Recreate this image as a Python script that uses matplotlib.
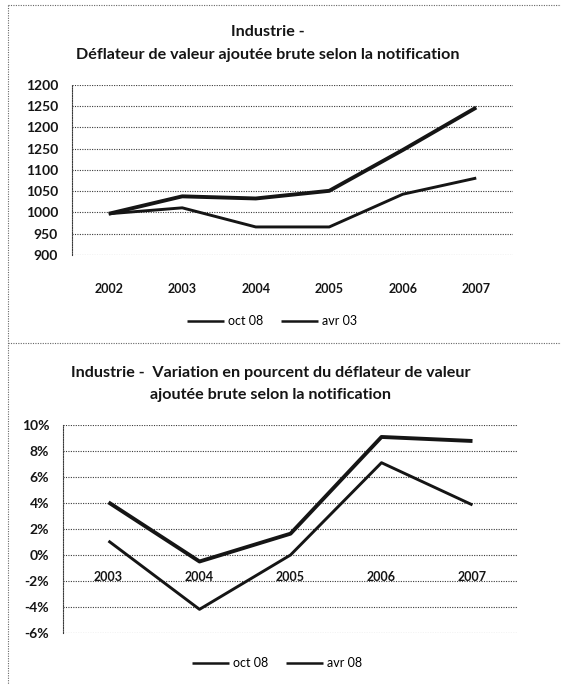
import matplotlib
matplotlib.use("Agg")
import matplotlib.pyplot as plt
from matplotlib.lines import Line2D

plt.rcParams['font.family'] = ['Lato', 'DejaVu Sans']

# ---- data ----
years_top = ["2002", "2003", "2004", "2005", "2006", "2007"]
oct08_level = [997, 1038, 1033, 1051, 1147, 1247]
avr03_level = [997, 1011, 966, 966, 1043, 1081]
ytick_vals_top = [1300, 1250, 1200, 1150, 1100, 1050, 1000, 950, 900]
ytick_labels_top = ["1200", "1250", "1200", "1250", "1100", "1050", "1000", "950", "900"]
legend_top = ["oct 08", "avr 03"]
title_top = ["Industrie -", "Déflateur de valeur ajoutée brute selon la notification"]

years_bot = ["2003", "2004", "2005", "2006", "2007"]
oct08_pct = [4.05, -0.5, 1.64, 9.08, 8.77]
avr08_pct = [1.08, -4.18, 0.0, 7.1, 3.85]
ytick_vals_bot = [10, 8, 6, 4, 2, 0, -2, -4, -6]
ytick_labels_bot = ["10%", "8%", "6%", "4%", "2%", "0%", "-2%", "-4%", "-6%"]
legend_bot = ["oct 08", "avr 08"]
title_bot = ["Industrie -  Variation en pourcent du déflateur de valeur",
             "ajoutée brute selon la notification"]

W, H = 561, 684
fig = plt.figure(figsize=(W / 100, H / 100), dpi=100)
fig.patch.set_facecolor("white")

def px_rect(l, t, r, b):
    return [l / W, 1 - b / H, (r - l) / W, (b - t) / H]

ink = "#151515"
gridc = "#3a3a3a"
dots = (0, (1, 1.2))

# outer dotted frames
for (x0, y0, x1, y1) in [(8, 5, W, 5), (8, 5, 8, H), (8, 343, W, 343)]:
    fig.add_artist(Line2D([x0 / W, x1 / W], [1 - y0 / H, 1 - y1 / H],
                          transform=fig.transFigure, color="#666666",
                          lw=0.8, linestyle=dots))

def style_axes(ax):
    for s in ["top", "right", "bottom"]:
        ax.spines[s].set_visible(False)
    ax.spines["left"].set_linestyle(dots)
    ax.spines["left"].set_color(gridc)
    ax.spines["left"].set_linewidth(0.8)
    ax.grid(axis="y", color=gridc, linestyle=dots, linewidth=0.8)
    ax.set_axisbelow(True)
    ax.tick_params(axis="both", length=0, colors=ink)
    ax.tick_params(axis="y", labelsize=10)
    ax.tick_params(axis="x", labelsize=9)
    ax.set_facecolor("white")

# ---- top chart ----
ax1 = fig.add_axes(px_rect(72, 85, 513, 255))
style_axes(ax1)
x1 = range(len(years_top))
ax1.plot(x1, oct08_level, color=ink, lw=2.8, solid_capstyle="butt", label=legend_top[0])
ax1.plot(x1, avr03_level, color=ink, lw=2.1, solid_capstyle="butt", label=legend_top[1])
ax1.set_xlim(-0.5, len(years_top) - 0.5)
ax1.set_ylim(900, 1300)
ax1.set_yticks(ytick_vals_top)
ax1.set_yticklabels(ytick_labels_top)
ax1.set_xticks(list(x1))
ax1.set_xticklabels(years_top)
ax1.tick_params(axis="x", pad=20)
ax1.tick_params(axis="y", pad=10)
for t in ax1.get_xticklabels() + ax1.get_yticklabels():
    t.set_fontweight("bold")

fig.text(268 / W, 1 - 32 / H, title_top[0], ha="center", va="center",
         fontsize=11.6, fontweight="bold", color=ink)
fig.text(268 / W, 1 - 55 / H, title_top[1], ha="center", va="center",
         fontsize=11.6, fontweight="bold", color=ink)
leg1 = ax1.legend(loc="center", bbox_to_anchor=(272 / W, 1 - 321 / H),
                  bbox_transform=fig.transFigure, ncol=2, frameon=False,
                  fontsize=9, handlelength=3.0, columnspacing=1.4, handletextpad=0.3)
for h in leg1.get_lines():
    h.set_linewidth(1.8)

# ---- bottom chart ----
ax2 = fig.add_axes(px_rect(63, 425, 518, 633))
style_axes(ax2)
x2 = range(len(years_bot))
ax2.plot(x2, oct08_pct, color=ink, lw=2.8, solid_capstyle="butt", label=legend_bot[0])
ax2.plot(x2, avr08_pct, color=ink, lw=2.1, solid_capstyle="butt", label=legend_bot[1])
ax2.set_xlim(-0.5, len(years_bot) - 0.5)
ax2.set_ylim(-6, 10)
ax2.set_yticks(ytick_vals_bot)
ax2.set_yticklabels(ytick_labels_bot)
ax2.set_xticks(list(x2))
ax2.set_xticklabels(years_bot)
ax2.spines["bottom"].set_position(("data", -2))
ax2.spines["bottom"].set_visible(False)
ax2.tick_params(axis="x", pad=-7)
ax2.tick_params(axis="y", pad=10)
for t in ax2.get_xticklabels():
    t.set_fontweight("bold")
    t.set_bbox(dict(facecolor="white", edgecolor="none", pad=1))
for t in ax2.get_yticklabels():
    t.set_fontweight("bold")

fig.text(271 / W, 1 - 373 / H, title_bot[0], ha="center", va="center",
         fontsize=11.6, fontweight="bold", color=ink)
fig.text(271 / W, 1 - 395 / H, title_bot[1], ha="center", va="center",
         fontsize=11.6, fontweight="bold", color=ink)
leg2 = ax2.legend(loc="center", bbox_to_anchor=(277 / W, 1 - 663 / H),
                  bbox_transform=fig.transFigure, ncol=2, frameon=False,
                  fontsize=9, handlelength=3.0, columnspacing=1.4, handletextpad=0.3)
for h in leg2.get_lines():
    h.set_linewidth(1.8)

fig.savefig("out.png", dpi=100)
